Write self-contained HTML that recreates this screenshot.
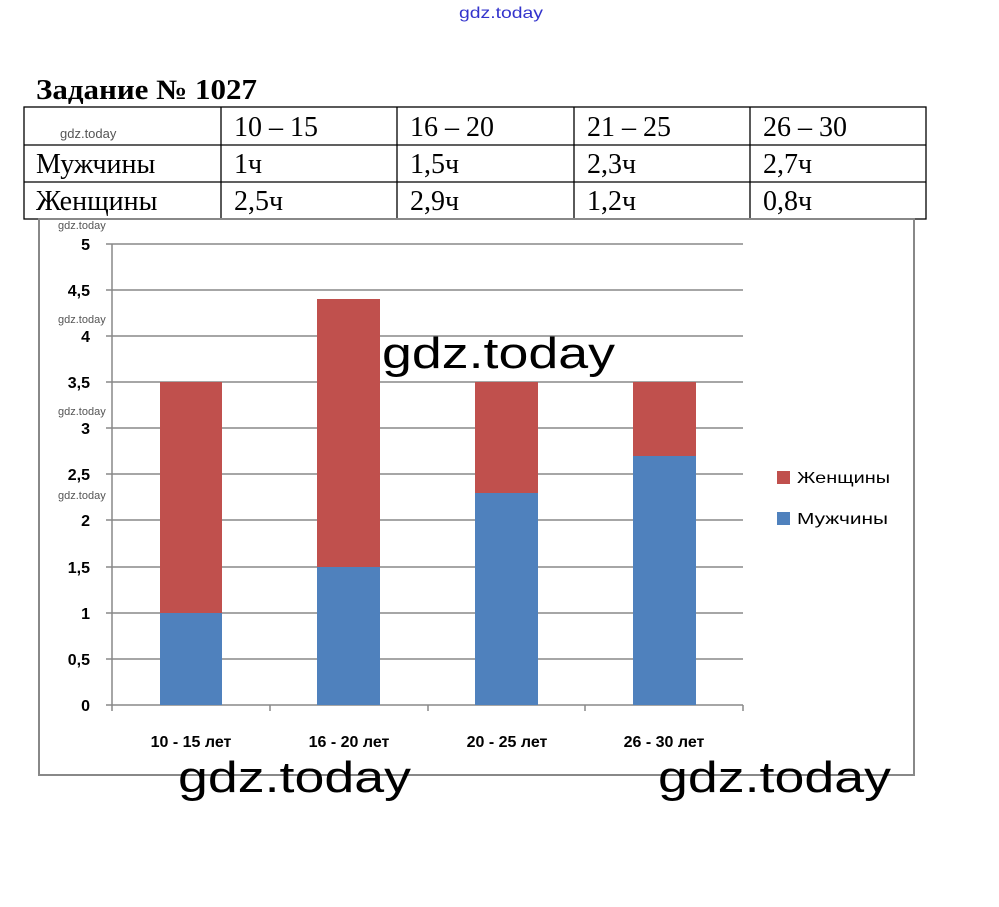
<!DOCTYPE html><html><head><meta charset="utf-8"><style>body{margin:0;background:#fff}svg{display:block}</style></head><body>
<svg width="999" height="907" xmlns="http://www.w3.org/2000/svg">
<text x="459" y="18" font-family="Liberation Sans, sans-serif" font-size="16" fill="#3333cc" textLength="84" lengthAdjust="spacingAndGlyphs">gdz.today</text>
<text x="36" y="99" font-family="Liberation Serif, serif" font-size="28" font-weight="bold" textLength="221" lengthAdjust="spacingAndGlyphs">Задание № 1027</text>
<g stroke="#000" stroke-width="1.3" fill="none">
<rect x="24" y="107" width="902" height="112"/>
<line x1="24" y1="145" x2="926" y2="145"/><line x1="24" y1="182" x2="926" y2="182"/>
<line x1="221" y1="107" x2="221" y2="219"/><line x1="397" y1="107" x2="397" y2="219"/><line x1="574" y1="107" x2="574" y2="219"/><line x1="750" y1="107" x2="750" y2="219"/>
</g>
<g font-family="Liberation Serif, serif" font-size="28" fill="#000">
<text x="234" y="136">10 – 15</text><text x="410" y="136">16 – 20</text><text x="587" y="136">21 – 25</text><text x="763" y="136">26 – 30</text>
<text x="36" y="173">Мужчины</text><text x="234" y="173">1ч</text><text x="410" y="173">1,5ч</text><text x="587" y="173">2,3ч</text><text x="763" y="173">2,7ч</text>
<text x="36" y="210">Женщины</text><text x="234" y="210">2,5ч</text><text x="410" y="210">2,9ч</text><text x="587" y="210">1,2ч</text><text x="763" y="210">0,8ч</text>
</g>
<text x="60" y="138" font-family="Liberation Sans, sans-serif" font-size="13" fill="#555">gdz.today</text>
<rect x="39" y="219" width="875" height="556" fill="none" stroke="#888" stroke-width="2"/>
<g stroke="#888" stroke-width="1.5">
<line x1="106" y1="244" x2="743" y2="244"/><line x1="106" y1="290" x2="743" y2="290"/><line x1="106" y1="336" x2="743" y2="336"/><line x1="106" y1="382" x2="743" y2="382"/><line x1="106" y1="428" x2="743" y2="428"/><line x1="106" y1="474" x2="743" y2="474"/><line x1="106" y1="520" x2="743" y2="520"/><line x1="106" y1="567" x2="743" y2="567"/><line x1="106" y1="613" x2="743" y2="613"/><line x1="106" y1="659" x2="743" y2="659"/><line x1="106" y1="705" x2="743" y2="705"/>
<line x1="112" y1="244" x2="112" y2="711"/>
<line x1="270" y1="705" x2="270" y2="711"/><line x1="428" y1="705" x2="428" y2="711"/><line x1="585" y1="705" x2="585" y2="711"/><line x1="743" y1="705" x2="743" y2="711"/>
</g>
<g fill="#4f81bd">
<rect x="160" y="613" width="62" height="92"/><rect x="317" y="567" width="63" height="138"/><rect x="475" y="493" width="63" height="212"/><rect x="633" y="456" width="63" height="249"/>
</g>
<g fill="#c0504d">
<rect x="160" y="382" width="62" height="231"/><rect x="317" y="299" width="63" height="268"/><rect x="475" y="382" width="63" height="111"/><rect x="633" y="382" width="63" height="74"/>
</g>
<g font-family="Liberation Sans, sans-serif" font-size="16" font-weight="bold" fill="#000" text-anchor="end">
<text x="90" y="250">5</text><text x="90" y="296">4,5</text><text x="90" y="342">4</text><text x="90" y="388">3,5</text><text x="90" y="434">3</text><text x="90" y="480">2,5</text><text x="90" y="526">2</text><text x="90" y="573">1,5</text><text x="90" y="619">1</text><text x="90" y="665">0,5</text><text x="90" y="711">0</text>
</g>
<g font-family="Liberation Sans, sans-serif" font-size="16" font-weight="bold" fill="#000" text-anchor="middle">
<text x="191" y="747">10 - 15 лет</text><text x="349" y="747">16 - 20 лет</text><text x="507" y="747">20 - 25 лет</text><text x="664" y="747">26 - 30 лет</text>
</g>
<g font-family="Liberation Sans, sans-serif" font-size="11" fill="#555">
<text x="58" y="229">gdz.today</text><text x="58" y="323">gdz.today</text><text x="58" y="415">gdz.today</text><text x="58" y="499">gdz.today</text>
</g>
<rect x="777" y="471" width="13" height="13" fill="#c0504d"/><rect x="777" y="512" width="13" height="13" fill="#4f81bd"/>
<g font-family="Liberation Sans, sans-serif" font-size="16" fill="#000">
<text x="797" y="483" textLength="93" lengthAdjust="spacingAndGlyphs">Женщины</text><text x="797" y="524" textLength="91" lengthAdjust="spacingAndGlyphs">Мужчины</text>
</g>
<g font-family="Liberation Sans, sans-serif" font-size="44" fill="#000">
<text x="382" y="368" textLength="233" lengthAdjust="spacingAndGlyphs">gdz.today</text><text x="178" y="792" textLength="233" lengthAdjust="spacingAndGlyphs">gdz.today</text><text x="658" y="792" textLength="233" lengthAdjust="spacingAndGlyphs">gdz.today</text>
</g>
</svg></body></html>
